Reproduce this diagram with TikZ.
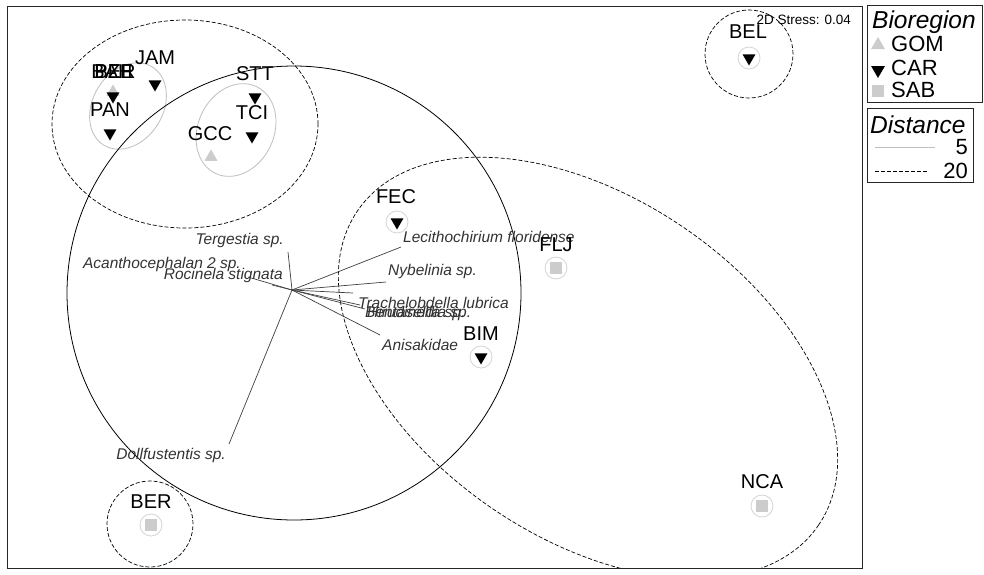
\documentclass[tikz,border=0pt]{standalone}
\usepackage{fontspec}
\setmainfont{Liberation Sans}
\usetikzlibrary{shapes.geometric}
\definecolor{symgray}{gray}{0.8}
\definecolor{ringgray}{gray}{0.83}
\definecolor{ellgray}{gray}{0.75}
\begin{document}
\begin{tikzpicture}[x=1pt,y=-1pt,
  lbl/.style={font=\fontsize{20}{20}\selectfont, inner sep=0pt},
  sp/.style={font=\fontsize{15.5}{15.5}\selectfont\itshape, text=black!80, inner sep=0pt},
  legf/.style={font=\fontsize{22}{22}\selectfont, inner sep=0pt},
  legt/.style={font=\fontsize{24.5}{24.5}\selectfont\itshape, inner sep=0pt, anchor=west},
  cartri/.style={regular polygon, regular polygon sides=3, shape border rotate=180, fill=black, draw=none, inner sep=0pt, minimum size=15pt},
  gomtri/.style={regular polygon, regular polygon sides=3, fill=symgray, draw=none, inner sep=0pt, minimum size=15pt},
  sabsq/.style={rectangle, fill=symgray, draw=none, inner sep=0pt, minimum size=12pt},
  ring/.style={circle, draw=ringgray, line width=0.8pt, minimum size=22pt, inner sep=0pt},
  dist20/.style={draw=black, line width=0.7pt, dash pattern=on 4pt off 2pt},
  dist5/.style={draw=ellgray, line width=0.8pt},
  vec/.style={draw=black!75, line width=0.7pt},
]
\useasboundingbox (0,0) rectangle (984,574);
\fill[white] (0,0) rectangle (984,574);

\begin{scope}
\clip (7,6) rectangle (862,568);
% 20 % similarity contours
\draw[dist20] (185,124) ellipse [x radius=133pt, y radius=104pt];
\draw[dist20] (749,54) circle [radius=44pt];
\draw[dist20] (150,524) circle [radius=43pt];
\draw[dist20, rotate around={-34.3:(588,368)}] (588,368) ellipse [x radius=279pt, y radius=170pt];
% 5 % contours
\draw[dist5, rotate around={58:(128,106)}] (128,106) ellipse [x radius=46pt, y radius=35pt];
\draw[dist5, rotate around={65:(236,130)}] (236,130) ellipse [x radius=48pt, y radius=38pt];
% big solid circle
\draw[black, line width=0.8pt] (294,293) circle [radius=227pt];
\end{scope}

% rings around isolated sites
\node[ring] (rBEL) at (749,58) {};
\node[ring] (rFEC) at (397,222) {};
\node[ring] (rFLJ) at (556,268) {};
\node[ring] (rBIM) at (481,357) {};
\node[ring] (rNCA) at (762,506) {};
\node[ring] (rBER) at (151,525) {};

% biplot vectors
\coordinate (O) at (292,290);
\coordinate (eTer) at (288,252);
\coordinate (eAca) at (248,277);
\coordinate (eRoc) at (272,285);
\coordinate (eDol) at (229,444);
\coordinate (eLec) at (401,247);
\coordinate (eNyb) at (386,282);
\coordinate (eTra) at (360,305);
\coordinate (eBen) at (353,293);
\coordinate (eHir) at (365,309);
\coordinate (eAni) at (380,335);
\foreach \e in {eTer,eAca,eRoc,eDol,eLec,eNyb,eTra,eBen,eHir,eAni}
  \draw[vec] (O) -- (\e);

\node[sp, anchor=east] (tTer) at (284,240) {Tergestia sp.};
\node[sp, anchor=east] (tAca) at (241,264) {Acanthocephalan 2 sp.};
\node[sp, anchor=east] (tRoc) at (283,275) {Rocinela stignata};
\node[sp, anchor=east] (tDol) at (226,455) {Dollfustentis sp.};
\node[sp, anchor=west] (tLec) at (403,237) {Lecithochirium floridense};
\node[sp, anchor=west] (tNyb) at (388,271) {Nybelinia sp.};
\node[sp, anchor=west] (tTra) at (358,303) {Trachelobdella lubrica};
\node[sp, anchor=west] (tBen) at (365,313) {Bentaseldia sp.};
\node[sp, anchor=west] (tHir) at (367,313) {Hirudinella sp.};
\node[sp, anchor=west] (tAni) at (382,345) {Anisakidae};

% site symbols
\node[gomtri] (pGOMx) at (113,92) {};
\node[cartri] (pX) at (113,96) {};
\node[cartri] (pJAM) at (155,84) {};
\node[cartri] (pPAN) at (110,133) {};
\node[cartri] (pSTT) at (255,97) {};
\node[cartri] (pTCI) at (252,136) {};
\node[gomtri] (pGCC) at (211,157) {};
\node[cartri] (pBEL) at (749,58) {};
\node[cartri] (pFEC) at (397,222) {};
\node[sabsq] (pFLJ) at (556,268) {};
\node[cartri] (pBIM) at (481,357) {};
\node[sabsq] (pNCA) at (762,506) {};
\node[sabsq] (pBER) at (151,525) {};

% site labels
\node[lbl] (lJAM) at (155,58) {JAM};
\node[lbl] (lX1) at (112,72) {BAH};
\node[lbl] (lX2) at (115,72) {PER};
\node[lbl] (lX3) at (114,72) {BZE};
\node[lbl] (lPAN) at (110,110) {PAN};
\node[lbl] (lSTT) at (255,74) {STT};
\node[lbl] (lTCI) at (252,113) {TCI};
\node[lbl] (lGCC) at (210,134) {GCC};
\node[lbl] (lBEL) at (748,32) {BEL};
\node[lbl] (lFEC) at (396,197) {FEC};
\node[lbl] (lFLJ) at (556,245) {FLJ};
\node[lbl] (lBIM) at (481,334) {BIM};
\node[lbl] (lNCA) at (762,482) {NCA};
\node[lbl] (lBER) at (151,502) {BER};

\node[font=\fontsize{13.5}{13.5}\selectfont, anchor=east, inner sep=0pt] (stress) at (851,20) {2D Stress: 0.04};

% frame
\draw[line width=0.8pt, black!85] (7,6) rectangle (862,568);

% legend: Bioregion
\draw[line width=0.8pt, black!85] (867,5) rectangle (982,102);
\node[legt] (bioT) at (872,22) {Bioregion};
\node[gomtri, minimum size=16pt] (lgGOM) at (878,45) {};
\node[legf, anchor=west] (tGOM) at (891,44) {GOM};
\node[cartri, minimum size=16pt] (lgCAR) at (878,70) {};
\node[legf, anchor=west] (tCAR) at (891,68) {CAR};
\node[sabsq, minimum size=12pt] (lgSAB) at (878,91) {};
\node[legf, anchor=west] (tSAB) at (891,90) {SAB};

% legend: Distance
\draw[line width=0.8pt, black!85] (867,108) rectangle (973,182);
\node[legt] (distT) at (870,125) {Distance};
\coordinate (l5a) at (875,147);
\coordinate (l5b) at (935,147);
\draw[dist5] (l5a) -- (l5b);
\node[legf, anchor=east] (t5) at (968,147) {5};
\coordinate (l20a) at (875,171);
\coordinate (l20b) at (928,171);
\draw[dist20] (l20a) -- (l20b);
\node[legf, anchor=east] (t20) at (968,171) {20};
\end{tikzpicture}
\end{document}
